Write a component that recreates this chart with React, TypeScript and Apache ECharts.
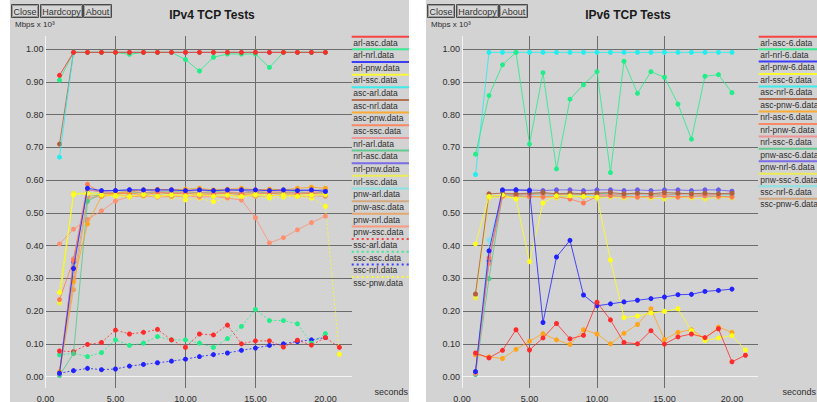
import React, { useEffect, useRef } from "react";
import * as echarts from "echarts";

const FONT = "'Liberation Sans', 'DejaVu Sans', Arial, sans-serif";
const PANEL_BG = "#d3d3d3";
const GRID_COLOR = "#6c6c6c";
const AXIS_WHITE = "#f4f4f4";
const TEXT_COLOR = "#2e2e2e";

const xTickValues = [0, 5, 10, 15, 20];
const yTickValues = [0, 0.1, 0.2, 0.3, 0.4, 0.5, 0.6, 0.7, 0.8, 0.9, 1.0];
const buttonLabels = ["Close", "Hardcopy", "About"];
const yUnitLabel = "Mbps x 10³";
const xUnitLabel = "seconds";
const v4Title = "IPv4 TCP Tests";
const v6Title = "IPv6 TCP Tests";

// ---------- IPv4 series (values at t = 1, 2, 3, ...) ----------
const v4_arl_asc = [0.92, 0.99, 0.99, 0.99, 0.99, 0.99, 0.99, 0.99, 0.99, 0.99, 0.99, 0.99, 0.99, 0.99, 0.99, 0.99, 0.99, 0.99, 0.99, 0.99];
const v4_arl_nrl = [0.905, 0.99, 0.99, 0.99, 0.99, 0.984, 0.99, 0.99, 0.99, 0.968, 0.933, 0.975, 0.985, 0.985, 0.985, 0.944, 0.99, 0.99, 0.99, 0.99];
const v4_arl_pnw = [0.01, 0.33, 0.575, 0.568, 0.568, 0.57, 0.57, 0.57, 0.57, 0.568, 0.57, 0.568, 0.57, 0.57, 0.57, 0.568, 0.57, 0.568, 0.57, 0.565];
const v4_arl_ssc = [0.257, 0.555, 0.56, 0.555, 0.553, 0.55, 0.556, 0.55, 0.555, 0.551, 0.556, 0.55, 0.554, 0.55, 0.556, 0.551, 0.555, 0.55, 0.554, 0.556];
const v4_asc_arl = [0.67, 0.99, 0.99, 0.99, 0.99, 0.99, 0.99, 0.99, 0.99, 0.99, 0.99, 0.99, 0.99, 0.99, 0.99, 0.99, 0.99, 0.99, 0.99, 0.99];
const v4_asc_nrl = [0.71, 0.99, 0.99, 0.99, 0.99, 0.99, 0.99, 0.99, 0.99, 0.99, 0.99, 0.99, 0.99, 0.99, 0.99, 0.99, 0.99, 0.99, 0.99, 0.99];
const v4_asc_pnw = [0.015, 0.29, 0.466, 0.55, 0.56, 0.565, 0.57, 0.572, 0.57, 0.572, 0.575, 0.57, 0.572, 0.575, 0.57, 0.572, 0.57, 0.575, 0.578, 0.575];
const v4_asc_ssc = [0.235, 0.355, 0.587, 0.56, 0.558, 0.56, 0.555, 0.562, 0.558, 0.56, 0.556, 0.558, 0.56, 0.556, 0.558, 0.56, 0.557, 0.558, 0.56, 0.555];
const v4_nrl_arl = [0.01, 0.36, 0.57, 0.565, 0.56, 0.565, 0.562, 0.565, 0.56, 0.565, 0.562, 0.56, 0.565, 0.56, 0.565, 0.562, 0.565, 0.56, 0.562, 0.56];
const v4_nrl_asc = [0.003, 0.07, 0.535, 0.56, 0.562, 0.565, 0.56, 0.565, 0.563, 0.565, 0.56, 0.565, 0.562, 0.56, 0.565, 0.56, 0.562, 0.565, 0.56, 0.562];
const v4_nrl_pnw = [0.01, 0.35, 0.57, 0.565, 0.568, 0.57, 0.568, 0.57, 0.57, 0.568, 0.57, 0.568, 0.57, 0.568, 0.565, 0.57, 0.568, 0.57, 0.568, 0.57];
const v4_nrl_ssc = [0.225, 0.56, 0.56, 0.562, 0.555, 0.56, 0.558, 0.56, 0.555, 0.558, 0.56, 0.555, 0.558, 0.56, 0.555, 0.558, 0.56, 0.555, 0.558, 0.56];
const v4_pnw_arl = [0.01, 0.345, 0.56, 0.558, 0.56, 0.562, 0.56, 0.558, 0.56, 0.56, 0.562, 0.56, 0.558, 0.56, 0.562, 0.56, 0.558, 0.56, 0.56, 0.56];
const v4_pnw_asc = [0.01, 0.3, 0.55, 0.555, 0.56, 0.558, 0.562, 0.56, 0.565, 0.56, 0.562, 0.565, 0.56, 0.562, 0.56, 0.565, 0.562, 0.56, 0.565, 0.562];
const v4_pnw_nrl = [0.01, 0.265, 0.545, 0.55, 0.555, 0.55, 0.552, 0.555, 0.55, 0.552, 0.555, 0.55, 0.552, 0.555, 0.55, 0.552, 0.555, 0.55, 0.552, 0.55];
const v4_pnw_ssc = [0.405, 0.45, 0.48, 0.506, 0.536, 0.55, 0.552, 0.548, 0.55, 0.552, 0.548, 0.55, 0.545, 0.539, 0.485, 0.408, 0.424, 0.448, 0.47, 0.49];
const v4_ssc_arl = [0.078, 0.076, 0.098, 0.104, 0.142, 0.13, 0.135, 0.144, 0.112, 0.089, 0.13, 0.127, 0.157, 0.1, 0.109, 0.109, 0.09, 0.111, 0.096, 0.119, 0.089];
const v4_ssc_asc = [0.066, 0.071, 0.061, 0.073, 0.112, 0.095, 0.102, 0.122, 0.112, 0.112, 0.102, 0.089, 0.116, 0.153, 0.205, 0.171, 0.171, 0.161, 0.102, 0.131];
const v4_ssc_nrl = [0.01, 0.018, 0.025, 0.021, 0.023, 0.032, 0.037, 0.042, 0.047, 0.053, 0.061, 0.067, 0.072, 0.08, 0.087, 0.095, 0.1, 0.107, 0.112, 0.119];
const v4_ssc_pnw = [0.225, 0.56, 0.555, 0.552, 0.55, 0.548, 0.55, 0.552, 0.548, 0.54, 0.545, 0.534, 0.545, 0.548, 0.55, 0.545, 0.548, 0.55, 0.545, 0.52, 0.068];

const v4Names = [
  "arl-asc.data", "arl-nrl.data", "arl-pnw.data", "arl-ssc.data",
  "asc-arl.data", "asc-nrl.data", "asc-pnw.data", "asc-ssc.data",
  "nrl-arl.data", "nrl-asc.data", "nrl-pnw.data", "nrl-ssc.data",
  "pnw-arl.data", "pnw-asc.data", "pnw-nrl.data", "pnw-ssc.data",
  "ssc-arl.data", "ssc-asc.data", "ssc-nrl.data", "ssc-pnw.data",
];
const v4Values = [
  v4_arl_asc, v4_arl_nrl, v4_arl_pnw, v4_arl_ssc,
  v4_asc_arl, v4_asc_nrl, v4_asc_pnw, v4_asc_ssc,
  v4_nrl_arl, v4_nrl_asc, v4_nrl_pnw, v4_nrl_ssc,
  v4_pnw_arl, v4_pnw_asc, v4_pnw_nrl, v4_pnw_ssc,
  v4_ssc_arl, v4_ssc_asc, v4_ssc_nrl, v4_ssc_pnw,
];
const v4Colors = [
  "#ff2a2a", "#20ee88", "#2222ff", "#ffff1a",
  "#22eeee", "#b0603c", "#ffa51a", "#ff7a50",
  "#f08a8a", "#50c888", "#6a5ae8", "#eeee44",
  "#80e4e4", "#d4a070", "#e8a060", "#ff9070",
  "#ff2a2a", "#20ee88", "#2222ff", "#ffff1a",
];
const v4Dotted = [
  false, false, false, false, false, false, false, false, false, false,
  false, false, false, false, false, false, true, true, true, true,
];

// ---------- IPv6 series (values at t = 1, 2, 3, ...) ----------
const v6_arl_asc = [0.072, 0.057, 0.08, 0.143, 0.081, 0.118, 0.162, 0.115, 0.126, 0.227, 0.173, 0.104, 0.1, 0.14, 0.099, 0.121, 0.13, 0.119, 0.146, 0.045, 0.065];
const v6_arl_nrl = [0.679, 0.858, 0.952, 0.99, 0.71, 0.928, 0.634, 0.847, 0.891, 0.931, 0.623, 0.963, 0.865, 0.931, 0.914, 0.832, 0.725, 0.917, 0.922, 0.867];
const v6_arl_pnw = [0.015, 0.384, 0.57, 0.57, 0.568, 0.165, 0.365, 0.416, 0.249, 0.216, 0.222, 0.228, 0.233, 0.238, 0.243, 0.25, 0.251, 0.26, 0.263, 0.267];
const v6_arl_ssc = [0.405, 0.55, 0.555, 0.542, 0.351, 0.53, 0.552, 0.552, 0.55, 0.548, 0.356, 0.18, 0.185, 0.194, 0.199, 0.207, 0.14, 0.11, 0.118, 0.125, 0.081];
const v6_asc_nrl = [0.617, 0.99, 0.99, 0.99, 0.99, 0.99, 0.99, 0.99, 0.99, 0.99, 0.99, 0.99, 0.99, 0.99, 0.99, 0.99, 0.99, 0.99, 0.99, 0.99];
const v6_asc_pnw = [0.252, 0.558, 0.56, 0.558, 0.56, 0.562, 0.558, 0.56, 0.558, 0.56, 0.562, 0.558, 0.56, 0.558, 0.562, 0.56, 0.558, 0.56, 0.558, 0.56];
const v6_nrl_asc = [0.066, 0.06, 0.055, 0.083, 0.108, 0.131, 0.112, 0.098, 0.143, 0.13, 0.1, 0.132, 0.159, 0.207, 0.113, 0.135, 0.143, 0.116, 0.151, 0.135];
const v6_nrl_pnw = [0.012, 0.362, 0.55, 0.552, 0.55, 0.548, 0.55, 0.542, 0.53, 0.55, 0.552, 0.55, 0.548, 0.55, 0.552, 0.548, 0.55, 0.552, 0.55, 0.548];
const v6_nrl_ssc = [0.01, 0.345, 0.556, 0.558, 0.555, 0.558, 0.556, 0.555, 0.558, 0.556, 0.555, 0.558, 0.556, 0.558, 0.555, 0.556, 0.558, 0.555, 0.556, 0.558];
const v6_pnw_asc = [0.006, 0.299, 0.556, 0.555, 0.558, 0.56, 0.556, 0.558, 0.555, 0.56, 0.558, 0.556, 0.56, 0.558, 0.556, 0.558, 0.56, 0.556, 0.558, 0.556];
const v6_pnw_nrl = [0.015, 0.353, 0.568, 0.57, 0.57, 0.568, 0.57, 0.57, 0.568, 0.57, 0.57, 0.568, 0.57, 0.568, 0.57, 0.57, 0.568, 0.57, 0.57, 0.566];
const v6_pnw_ssc = [0.24, 0.545, 0.548, 0.545, 0.55, 0.548, 0.545, 0.548, 0.55, 0.545, 0.548, 0.545, 0.548, 0.545, 0.542, 0.548, 0.545, 0.542, 0.548, 0.545];
const v6_ssc_nrl = [0.015, 0.417, 0.552, 0.55, 0.552, 0.555, 0.55, 0.552, 0.555, 0.552, 0.55, 0.552, 0.555, 0.552, 0.55, 0.555, 0.552, 0.55, 0.552, 0.555];
const v6_ssc_pnw = [0.25, 0.55, 0.552, 0.55, 0.548, 0.552, 0.55, 0.552, 0.548, 0.55, 0.552, 0.55, 0.548, 0.552, 0.55, 0.548, 0.552, 0.55, 0.548, 0.55];

const v6Names = [
  "arl-asc-6.data", "arl-nrl-6.data", "arl-pnw-6.data", "arl-ssc-6.data",
  "asc-nrl-6.data", "asc-pnw-6.data", "nrl-asc-6.data", "nrl-pnw-6.data",
  "nrl-ssc-6.data", "pnw-asc-6.data", "pnw-nrl-6.data", "pnw-ssc-6.data",
  "ssc-nrl-6.data", "ssc-pnw-6.data",
];
const v6Values = [
  v6_arl_asc, v6_arl_nrl, v6_arl_pnw, v6_arl_ssc,
  v6_asc_nrl, v6_asc_pnw, v6_nrl_asc, v6_nrl_pnw,
  v6_nrl_ssc, v6_pnw_asc, v6_pnw_nrl, v6_pnw_ssc,
  v6_ssc_nrl, v6_ssc_pnw,
];
const v6Colors = [
  "#ff2a2a", "#20ee88", "#2222ff", "#ffff1a",
  "#22eeee", "#b0603c", "#ffa51a", "#ff7a50",
  "#f08a8a", "#50c888", "#6a5ae8", "#eeee44",
  "#80e4e4", "#d4a070",
];
const v6Dotted = v6Names.map(() => false);

type PanelCfg = {
  left: number;
  width: number;
  title: string;
  names: string[];
  values: number[][];
  colors: string[];
  dotted: boolean[];
  gridLeft: number;
  gridWidth: number;
  xMax: number;
  legendX: number;
  legendStep: number;
};

function buildOption(cfg: PanelCfg) {
  const n = cfg.names.length;
  const series = cfg.names.map((name, i) => ({
    type: "line",
    name,
    data: cfg.values[i].map((v, k) => [k + 1, v]),
    symbol: "circle",
    symbolSize: 5,
    showSymbol: true,
    clip: true,
    silent: true,
    z: 2 + (n - i),
    lineStyle: {
      color: cfg.colors[i],
      width: 1,
      type: cfg.dotted[i] ? [2, 2] : "solid",
      opacity: 0.8,
    },
    itemStyle: { color: cfg.colors[i] },
    emphasis: { disabled: true },
  }));

  const graphic: any[] = [];
  // buttons
  const btnX = [1, 30, 73];
  const btnW = [27, 42, 28];
  buttonLabels.forEach((label, i) => {
    graphic.push({
      type: "rect",
      shape: { x: btnX[i] + 0.5, y: 4.5, width: btnW[i], height: 13 },
      style: { fill: "#d6d6d6", stroke: "#4a4a4a", lineWidth: 1 },
    });
    graphic.push({
      type: "rect",
      shape: { x: btnX[i] + 1.5, y: 5.5, width: btnW[i] - 2, height: 11 },
      style: { fill: "none", stroke: "#9a9a9a", lineWidth: 1 },
    });
    graphic.push({
      type: "text",
      x: btnX[i] + btnW[i] / 2 + 0.5,
      y: 11.5,
      style: {
        text: label,
        fill: "#333",
        fontSize: 9,
        fontFamily: FONT,
        align: "center",
        verticalAlign: "middle",
        textAlign: "center",
        textVerticalAlign: "middle",
      },
    });
  });
  // title
  graphic.push({
    type: "text",
    x: 202,
    y: 15,
    style: {
      text: cfg.title,
      fill: "#1a1a1a",
      fontSize: 12,
      fontWeight: "bold",
      fontFamily: FONT,
      align: "center",
      verticalAlign: "middle",
      textAlign: "center",
      textVerticalAlign: "middle",
    },
  });
  // unit labels
  graphic.push({
    type: "text",
    x: 5,
    y: 24.5,
    style: {
      text: yUnitLabel,
      fill: TEXT_COLOR,
      fontSize: 8,
      fontFamily: FONT,
      align: "left",
      verticalAlign: "middle",
      textAlign: "left",
      textVerticalAlign: "middle",
    },
  });
  graphic.push({
    type: "text",
    x: cfg.width - 1,
    y: 392,
    style: {
      text: xUnitLabel,
      fill: TEXT_COLOR,
      fontSize: 9,
      fontFamily: FONT,
      align: "right",
      verticalAlign: "middle",
      textAlign: "right",
      textVerticalAlign: "middle",
    },
  });
  // legend
  cfg.names.forEach((name, i) => {
    const y0 = 36.7 + i * cfg.legendStep;
    graphic.push({
      type: "line",
      shape: { x1: cfg.legendX, y1: y0, x2: cfg.width, y2: y0 },
      style: {
        stroke: cfg.colors[i],
        lineWidth: 2,
        lineDash: cfg.dotted[i] ? [2, 3] : null,
        opacity: 0.85,
      },
    });
    graphic.push({
      type: "text",
      x: cfg.legendX + 1.6,
      y: y0 + 5.8,
      style: {
        text: name,
        fill: TEXT_COLOR,
        fontSize: 8.5,
        fontFamily: FONT,
        align: "left",
        verticalAlign: "middle",
        textAlign: "left",
        textVerticalAlign: "middle",
      },
    });
  });

  const ySplitColors = yTickValues.map((v) => (v === 0 ? AXIS_WHITE : GRID_COLOR));
  const xSplitColors = xTickValues.map((v) => (v === 0 ? AXIS_WHITE : GRID_COLOR));

  return {
    animation: false,
    backgroundColor: PANEL_BG,
    grid: {
      left: cfg.gridLeft,
      top: 36,
      width: cfg.gridWidth,
      height: 352,
      containLabel: false,
      outerBoundsMode: "none",
    },
    xAxis: {
      type: "value",
      min: 0,
      max: cfg.xMax,
      axisLine: { show: false },
      axisTick: { show: false, customValues: xTickValues },
      axisLabel: {
        customValues: xTickValues,
        formatter: (v: number) => v.toFixed(2),
        fontSize: 9,
        fontFamily: FONT,
        color: TEXT_COLOR,
        margin: 6,
      },
      splitLine: { show: true, showMinLine: true, showMaxLine: false, lineStyle: { color: xSplitColors, width: 1 } },
    },
    yAxis: {
      type: "value",
      min: -0.035,
      max: 1.04,
      axisLine: { show: false },
      axisTick: { show: false, customValues: yTickValues },
      axisLabel: {
        customValues: yTickValues,
        formatter: (v: number) => v.toFixed(2),
        fontSize: 9,
        fontFamily: FONT,
        color: TEXT_COLOR,
        margin: 2,
      },
      splitLine: { show: true, showMinLine: true, showMaxLine: true, lineStyle: { color: ySplitColors, width: 1 } },
    },
    series,
    graphic,
  };
}

function Panel(cfg: PanelCfg) {
  const ref = useRef<HTMLDivElement>(null);
  useEffect(() => {
    if (!ref.current) return;
    const chart = echarts.init(ref.current, null, { renderer: "svg" });
    chart.setOption(buildOption(cfg) as any);
    return () => chart.dispose();
  }, []);
  return (
    <div
      ref={ref}
      style={{ position: "absolute", left: cfg.left, top: 0, width: cfg.width, height: 402, overflow: "hidden" }}
    />
  );
}

export default function App() {
  return (
    <div style={{ position: "fixed", left: 0, top: 0, width: 817, height: 402, background: "#ffffff", overflow: "hidden" }}>
      <Panel
        left={10}
        width={399}
        title={v4Title}
        names={v4Names}
        values={v4Values}
        colors={v4Colors}
        dotted={v4Dotted}
        gridLeft={35.5}
        gridWidth={306.5}
        xMax={21.9}
        legendX={341.7}
        legendStep={12.65}
      />
      <Panel
        left={426}
        width={391}
        title={v6Title}
        names={v6Names}
        values={v6Values}
        colors={v6Colors}
        dotted={v6Dotted}
        gridLeft={36}
        gridWidth={296}
        xMax={21.93}
        legendX={332.7}
        legendStep={12.46}
      />
    </div>
  );
}
